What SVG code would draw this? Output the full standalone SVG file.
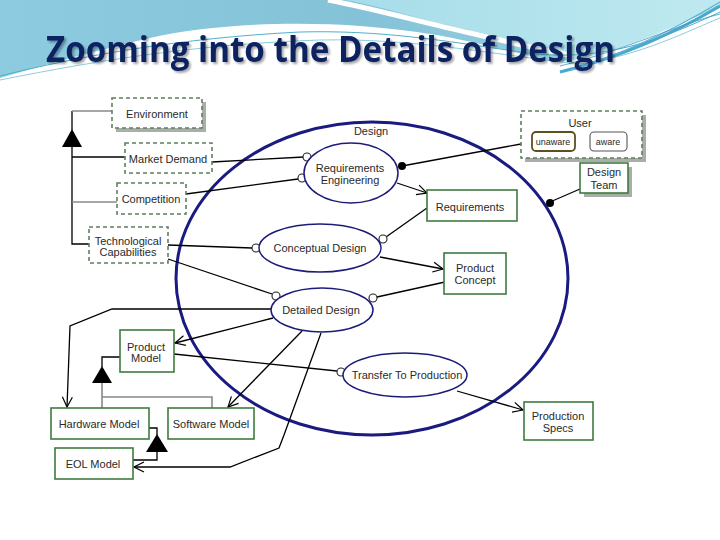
<svg xmlns="http://www.w3.org/2000/svg" width="720" height="540" viewBox="0 0 720 540">
<defs>
  <linearGradient id="hdr" x1="0" y1="0" x2="1" y2="0">
    <stop offset="0" stop-color="#8ccbe0"/>
    <stop offset="0.5" stop-color="#84c2d8"/>
    <stop offset="1" stop-color="#9fd8e6"/>
  </linearGradient>
  <linearGradient id="hdr2" x1="0" y1="0" x2="1" y2="0">
    <stop offset="0" stop-color="#a6dde9"/>
    <stop offset="1" stop-color="#bfe9f0"/>
  </linearGradient>
  <marker id="open" viewBox="0 0 12 12" refX="11" refY="6" markerWidth="12" markerHeight="12" markerUnits="userSpaceOnUse" orient="auto">
    <path d="M1,1 L11,6 L1,11" fill="none" stroke="#000" stroke-width="1.2"/>
  </marker>
  <filter id="tsh" x="-5%" y="-20%" width="110%" height="140%">
    <feGaussianBlur in="SourceAlpha" stdDeviation="1"/>
    <feOffset dx="1.5" dy="1.5" result="o"/>
    <feComponentTransfer><feFuncA type="linear" slope="0.35"/></feComponentTransfer>
    <feMerge><feMergeNode/><feMergeNode in="SourceGraphic"/></feMerge>
  </filter>
</defs>
<style>
  .t { font-family: "Liberation Sans", Arial, sans-serif; font-size: 11px; fill: #2a2a2a; text-anchor: middle; }
  .dash { fill: #fff; stroke: #5f7f5f; stroke-width: 1.6; stroke-dasharray: 4 3; }
  .box { fill: #fff; stroke: #3f7a3f; stroke-width: 1.6; }
  .shadow { fill: #a9aea9; }
  .ell { fill: #fff; stroke: #1c1c78; stroke-width: 1.5; }
  .ln { fill: none; stroke: #000; stroke-width: 1.3; }
  .gl { fill: none; stroke: #888; stroke-width: 1.6; }
  .oc { fill: #fff; stroke: #222; stroke-width: 1.1; }
  .dot { fill: #000; }
  .tri { fill: #000; }
</style>

<!-- header background -->
<rect x="0" y="0" width="720" height="540" fill="#fff"/>
<path d="M0,0 H720 V8 C660,30 610,52 560,62 C520,55 480,42 430,34 C330,18 220,22 150,38 C90,52 40,66 0,78 Z" fill="url(#hdr)"/>
<path d="M345,0 H720 V4 C680,25 630,48 575,60 C540,50 500,36 460,28 C420,20 390,8 345,0 Z" fill="url(#hdr2)"/>
<path d="M328,0 C380,10 420,22 470,33 C510,42 540,50 570,55" fill="none" stroke="#fff" stroke-width="5"/>
<path d="M0,76 C80,56 180,38 300,32 C380,30 440,40 520,52 C600,64 660,40 720,12" fill="none" stroke="#4fb0c8" stroke-width="1"/>
<path d="M0,80 C100,60 200,44 320,40 C420,38 500,56 580,64 C640,56 690,30 720,18" fill="none" stroke="#6cc0d4" stroke-width="0.8"/>
<path d="M560,72 C620,58 680,30 720,6" fill="none" stroke="#4aa8cc" stroke-width="3"/>
<path d="M570,70 C630,52 680,26 720,2" fill="none" stroke="#5bb4d4" stroke-width="1.2"/>
<path d="M560,66 C625,50 680,24 720,14" fill="none" stroke="#3e9cc4" stroke-width="0.8"/>

<text x="46" y="62" font-family="Open Sans, Liberation Sans, sans-serif" font-weight="700" font-size="35" fill="#0d2361" textLength="569" lengthAdjust="spacingAndGlyphs" filter="url(#tsh)">Zooming into the Details of Design</text>

<!-- big Design ellipse -->
<g id="design">
  <ellipse cx="372" cy="278.5" rx="196" ry="156.5" fill="none" stroke="#1a1a80" stroke-width="3"/>
  <text class="t" x="371" y="135">Design</text>
</g>

<!-- connectors -->
<g id="connectors">
  <!-- inheritance tree left -->
  <path class="ln" d="M72,111 V130"/>
  <path class="gl" d="M72,111 H112"/>
  <path class="ln" d="M72,147 V244 H89"/>
  <path class="ln" d="M72,157 H125"/>
  <path class="gl" d="M72,202 H117"/>
  <polygon class="tri" points="72,129 62,147 82,147"/>

  <!-- context to ellipses -->
  <path class="ln" d="M212,162 L304,157"/>
  <path class="ln" d="M186,194 L298,179"/>
  <path class="ln" d="M168,245 L252,248"/>
  <path class="ln" d="M168,259 L272,294"/>
  <path class="ln" d="M521,144 L402,166"/>
  <path class="ln" d="M580,189 L550,202"/>

  <!-- inside -->
  <path class="ln" d="M397,183 L427,193" marker-end="url(#open)"/>
  <path class="ln" d="M427,208 L386,237"/>
  <path class="ln" d="M380,257 L443,269" marker-end="url(#open)"/>
  <path class="ln" d="M445,282 L377,297"/>

  <!-- detailed design outputs -->
  <path class="ln" d="M271,309 H112 L70,326 L67,407" marker-end="url(#open)"/>
  <path class="ln" d="M273,318 L175,343" marker-end="url(#open)"/>
  <path class="ln" d="M302,331 L228,407" marker-end="url(#open)"/>
  <path class="ln" d="M321,333 L284,435 L279,448 L230,467 H134" marker-end="url(#open)"/>
  <path class="ln" d="M174,354 L337,371"/>
  <path class="ln" d="M457,391 L523,410" marker-end="url(#open)"/>

  <!-- inheritance bottom -->
  <path class="ln" d="M120,357 H102 V367"/>
  <polygon class="tri" points="102,366 92,383 112,383"/>
  <path class="gl" d="M102,383 V408"/>
  <path class="gl" d="M102,397 H212 V408"/>
  <path class="ln" d="M149,428 H157 V435"/>
  <polygon class="tri" points="157,434 146,452 168,452"/>
  <path class="ln" d="M157,452 V460 H133"/>

  <!-- ends -->
  <circle class="oc" cx="307" cy="157" r="4"/>
  <circle class="oc" cx="302" cy="178" r="4"/>
  <circle class="oc" cx="256" cy="248" r="4"/>
  <circle class="oc" cx="276" cy="296" r="4"/>
  <circle class="oc" cx="383" cy="239" r="4"/>
  <circle class="oc" cx="373" cy="298" r="4"/>
  <circle class="oc" cx="341" cy="372" r="4"/>
  <circle class="dot" cx="402" cy="166" r="4"/>
  <circle class="dot" cx="550" cy="203" r="4"/>
</g>

<!-- context boxes -->
<g id="environment">
  <rect class="shadow" x="116" y="102" width="90" height="30"/>
  <rect class="dash" x="112" y="98" width="90" height="30"/>
  <text class="t" x="157" y="118">Environment</text>
</g>
<g id="market-demand">
  <rect class="dash" x="125" y="143" width="87" height="30"/>
  <text class="t" x="168" y="163">Market Demand</text>
</g>
<g id="competition">
  <rect class="dash" x="117" y="183" width="69" height="31"/>
  <text class="t" x="151" y="203">Competition</text>
</g>
<g id="tech-capabilities">
  <rect class="dash" x="89" y="227" width="79" height="36"/>
  <text class="t" x="128" y="245">Technological</text>
  <text class="t" x="128" y="256">Capabilities</text>
</g>
<g id="user">
  <rect class="shadow" x="525" y="115" width="121" height="47"/>
  <rect class="dash" x="521" y="111" width="121" height="47"/>
  <text class="t" x="580" y="127">User</text>
  <rect x="532" y="132" width="43" height="19" rx="4" fill="#fff" stroke="#5a5020" stroke-width="1.8"/>
  <text class="t" x="553" y="145" style="font-size:9px">unaware</text>
  <rect x="590" y="132" width="37" height="19" rx="4" fill="#fff" stroke="#555" stroke-width="1.1"/>
  <text class="t" x="608" y="145" style="font-size:9px">aware</text>
</g>
<g id="design-team">
  <rect class="shadow" x="584" y="167" width="48" height="30"/>
  <rect class="box" x="580" y="163" width="48" height="30"/>
  <text class="t" x="604" y="176">Design</text>
  <text class="t" x="604" y="189">Team</text>
</g>

<!-- inner ellipses -->
<g id="req-eng">
  <ellipse class="ell" cx="351" cy="173" rx="47" ry="30"/>
  <text class="t" x="350" y="172">Requirements</text>
  <text class="t" x="350" y="184">Engineering</text>
</g>
<g id="conceptual-design">
  <ellipse class="ell" cx="320" cy="248" rx="61" ry="24"/>
  <text class="t" x="320" y="252">Conceptual Design</text>
</g>
<g id="detailed-design">
  <ellipse class="ell" cx="322" cy="310" rx="51" ry="22"/>
  <text class="t" x="321" y="314">Detailed Design</text>
</g>
<g id="transfer">
  <ellipse class="ell" cx="405" cy="375" rx="62" ry="22"/>
  <text class="t" x="407" y="379">Transfer To Production</text>
</g>

<!-- artifact boxes -->
<g id="requirements">
  <rect class="box" x="427" y="190" width="90" height="31"/>
  <text class="t" x="470" y="211">Requirements</text>
</g>
<g id="product-concept">
  <rect class="box" x="444" y="253" width="62" height="41"/>
  <text class="t" x="475" y="272">Product</text>
  <text class="t" x="475" y="284">Concept</text>
</g>
<g id="product-model">
  <rect class="box" x="120" y="330" width="54" height="42"/>
  <text class="t" x="146" y="351">Product</text>
  <text class="t" x="146" y="362">Model</text>
</g>
<g id="hardware-model">
  <rect class="box" x="51" y="408" width="98" height="31"/>
  <text class="t" x="99" y="428">Hardware Model</text>
</g>
<g id="software-model">
  <rect class="box" x="168" y="408" width="86" height="31"/>
  <text class="t" x="211" y="428">Software Model</text>
</g>
<g id="eol-model">
  <rect class="box" x="55" y="448" width="78" height="31"/>
  <text class="t" x="93" y="468">EOL Model</text>
</g>
<g id="production-specs">
  <rect class="box" x="524" y="402" width="69" height="38"/>
  <text class="t" x="558" y="420">Production</text>
  <text class="t" x="558" y="432">Specs</text>
</g>
</svg>
